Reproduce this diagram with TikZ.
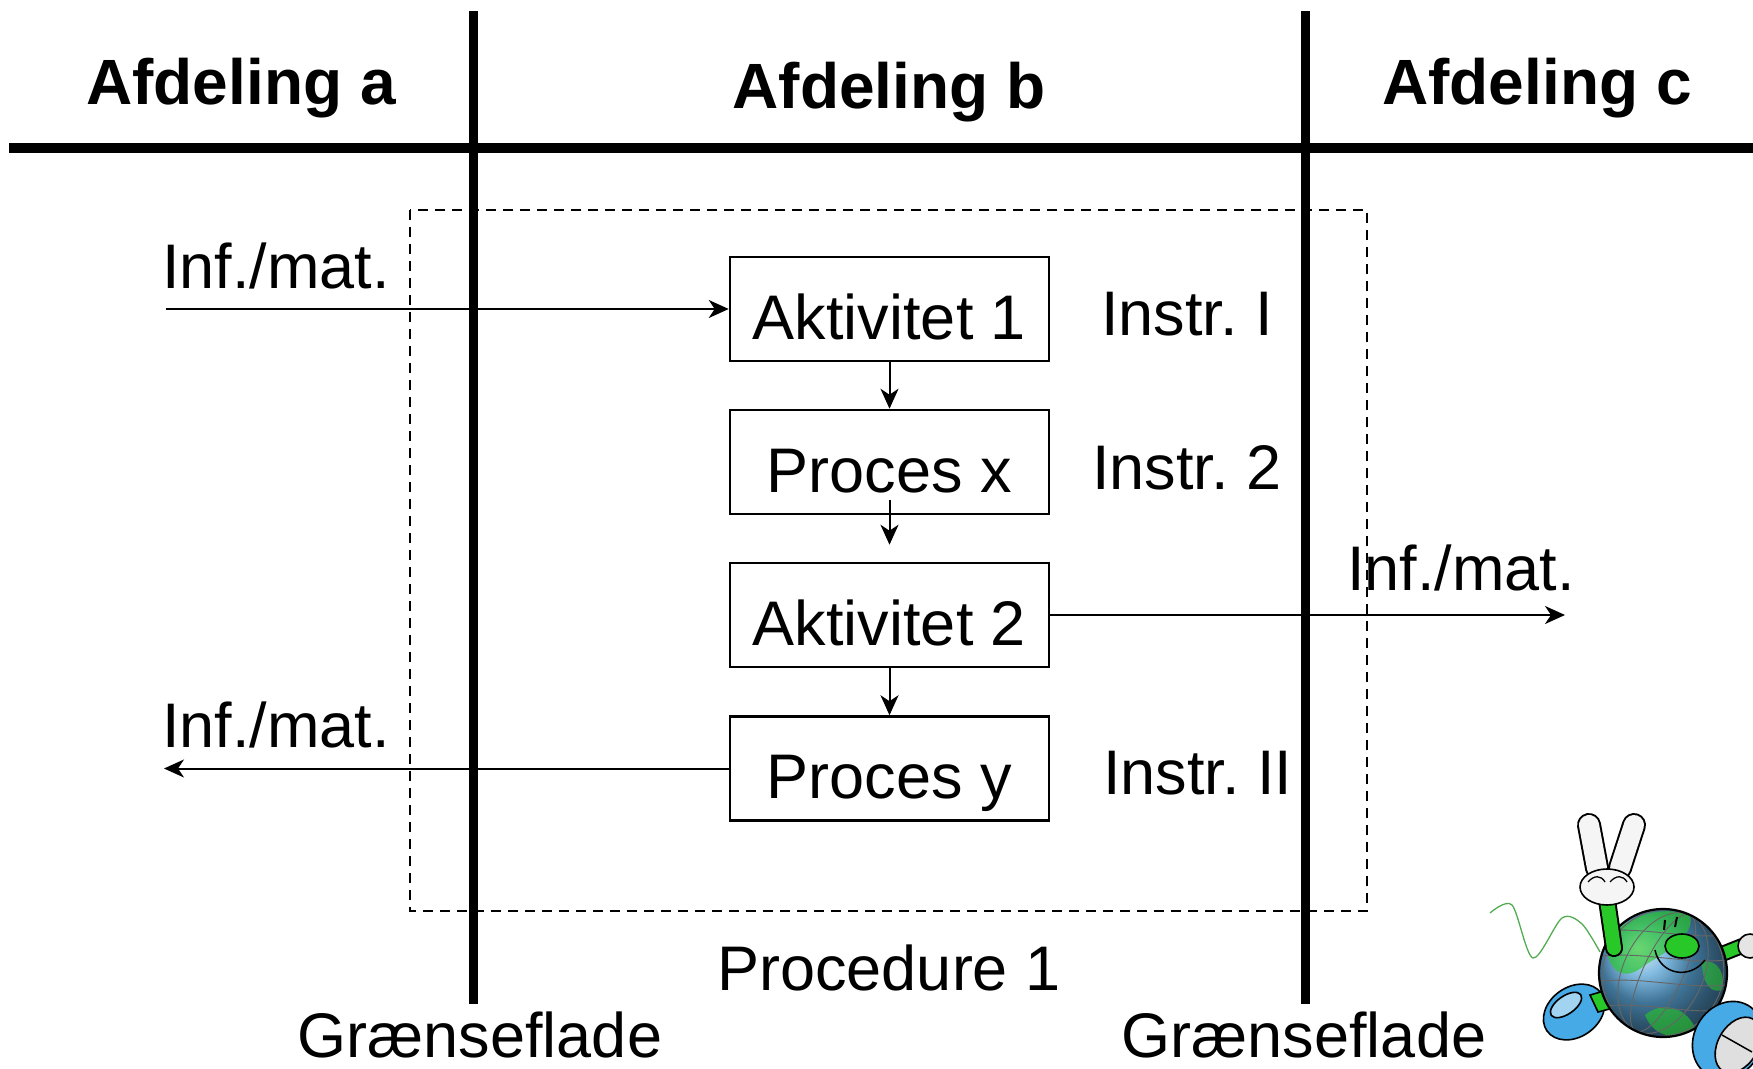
\documentclass[tikz,border=0pt]{standalone}
\usepackage{fontspec}
\setmainfont{Liberation Sans}
\usetikzlibrary{arrows.meta}
\definecolor{leaf}{RGB}{40,200,40}
\definecolor{sea}{RGB}{90,165,215}
\definecolor{shoe}{RGB}{70,170,230}
\frenchspacing
\begin{document}
\begin{tikzpicture}[x=1pt,y=-1pt,
  lbl/.style={font=\fontsize{63}{70}\selectfont, inner sep=0pt},
  head/.style={font=\fontsize{64}{70}\selectfont\bfseries, inner sep=0pt, anchor=base},
  stepbox/.style={draw, line width=2.5pt, minimum width=319pt, minimum height=104pt,
    inner sep=0pt, text height=60pt, text depth=0pt, font=\fontsize{63}{70}\selectfont},
  flow/.style={line width=2pt, -{Stealth[length=20pt,width=18pt,inset=6pt]}},
  wall/.style={line width=9pt},
  outline/.style={draw=black, line width=1.6pt},
]
\useasboundingbox (0,0) rectangle (1753,1068);

% lanes
\draw[line width=10pt] (9,148) -- (1753,148);
\draw[wall] (473,11) -- (473,1004);
\draw[wall] (1305,11) -- (1305,1004);

\node[head] (ha) at (241,104) {Afdeling a};
\node[head] (hb) at (889,108) {Afdeling b};
\node[head] (hc) at (1537,104) {Afdeling c};

% procedure frame
\draw[line width=2.2pt, dash pattern=on 10pt off 7pt] (410,210) rectangle (1367,911);

% steps
\node[stepbox, fill=white] (a1) at (889.5,309) {Aktivitet 1};
\node[stepbox, fill=white] (px) at (889.5,462) {Proces x};
\node[stepbox, fill=white] (a2) at (889.5,615) {Aktivitet 2};
\node[stepbox, fill=white] (py) at (889.5,768.5) {Proces y};

\draw[flow] (a1.south) -- (px.north);
\draw[flow] ([yshift=15pt]px.south) -- ([yshift=17pt]a2.north);
\draw[flow] (a2.south) -- (py.north);

% instructions
\node[lbl, anchor=base west] (i1) at (1101,335) {Instr. I};
\node[lbl, anchor=base west] (i2) at (1092,489) {Instr. 2};
\node[lbl, anchor=base west] (i3) at (1103,794) {Instr. II};

% information / material flows
\coordinate (infrom) at (166,309);
\coordinate (outleft) at (164,768.5);
\coordinate (outright) at (1565,615);
\draw[flow] (infrom) -- (a1.west);
\draw[flow] (py.west) -- (outleft);
\draw[flow] (a2.east) -- (outright);
\node[lbl, anchor=base west] (m1) at (162,288) {Inf./mat.};
\node[lbl, anchor=base west] (m2) at (162,747) {Inf./mat.};
\node[lbl, anchor=base west] (m3) at (1347,590) {Inf./mat.};

\node[lbl, anchor=base] (proc) at (889,990) {Procedure 1};
\node[lbl, anchor=base] (g1) at (480,1057) {Grænseflade};
\node[lbl, anchor=base] (g2) at (1304,1057) {Grænseflade};

% running globe mascot
\draw[green!35!gray, line width=1.3pt] plot[smooth] coordinates
  {(1490,913) (1512,905) (1533,958) (1562,918) (1582,924) (1600,952)};
\draw[outline, fill=shoe] (1574,1012) ellipse [x radius=33, y radius=25, rotate=35];
\draw[outline, fill=shoe!50!white] (1566,1005) ellipse [x radius=18, y radius=9, rotate=35];
\draw[outline, fill=leaf] (1590,995) -- (1625,985) -- (1632,1003) -- (1598,1012) -- cycle;
\draw[black, line width=16pt, line cap=round] (1712,958) -- (1742,946);
\draw[leaf, line width=12pt, line cap=round] (1712,958) -- (1742,946);
\draw[outline, fill=gray!20] (1750,946) circle (12);
\shade[ball color=sea] (1663,973) circle (64);
\begin{scope}
  \clip (1663,973) circle (64);
  \fill[leaf, opacity=0.65] (1605,940) .. controls (1630,915) and (1660,905) .. (1690,915)
     .. controls (1695,935) and (1670,950) .. (1645,965) .. controls (1628,980) and (1608,978) .. cycle;
  \fill[leaf, opacity=0.6] (1645,1015) .. controls (1660,1002) and (1685,1005) .. (1695,1028)
     .. controls (1680,1040) and (1655,1040) .. cycle;
  \fill[leaf, opacity=0.55] (1702,962) .. controls (1718,958) and (1726,975) .. (1722,990)
     .. controls (1710,994) and (1702,982) .. cycle;
  \foreach \r in {20,40,60} {
    \draw[black!60, line width=0.9pt] (1663,973) ellipse [x radius=\r, y radius=64, rotate=-25];
  }
  \foreach \h in {-40,-15,10,35} {
    \draw[black!60, line width=0.9pt] (1590,973+\h) .. controls (1640,963+\h) and (1690,983+\h) .. (1740,973+\h);
  }
\end{scope}
\draw[black, line width=2.2pt] (1663,973) circle (64);
% raised arm with victory hand
\draw[black, line width=18pt, line cap=round] (1614,948) -- (1607,900);
\draw[leaf, line width=14pt, line cap=round] (1614,948) -- (1607,900);
\draw[black, line width=24pt, line cap=round] (1597,868) -- (1589,825);
\draw[gray!8, line width=20pt, line cap=round] (1597,868) -- (1589,825);
\draw[black, line width=24pt, line cap=round] (1620,868) -- (1634,825);
\draw[gray!8, line width=20pt, line cap=round] (1620,868) -- (1634,825);
\draw[outline, fill=gray!8] (1607,887) ellipse [x radius=27, y radius=18];
\draw[black, line width=1.3pt] (1588,882) .. controls (1594,875) and (1601,875) .. (1605,882);
\draw[black, line width=1.3pt] (1610,882) .. controls (1616,875) and (1623,875) .. (1627,882);
% face
\draw[black, line width=2pt] (1664,930) -- (1665,920);
\draw[black, line width=2pt] (1675,927) -- (1677,917);
\draw[outline, fill=leaf] (1682,946) ellipse [x radius=17, y radius=12];
\draw[black, line width=1.5pt] (1655,950) .. controls (1660,975) and (1690,980) .. (1705,960);
% front shoe
\draw[outline, fill=shoe] (1728,1040) ellipse [x radius=34, y radius=40, rotate=-30];
\draw[outline, fill=gray!25] (1738,1045) ellipse [x radius=20, y radius=30, rotate=-30];
\draw[black, line width=1.5pt] (1722,1035) -- (1752,1052);
\end{tikzpicture}
\end{document}
